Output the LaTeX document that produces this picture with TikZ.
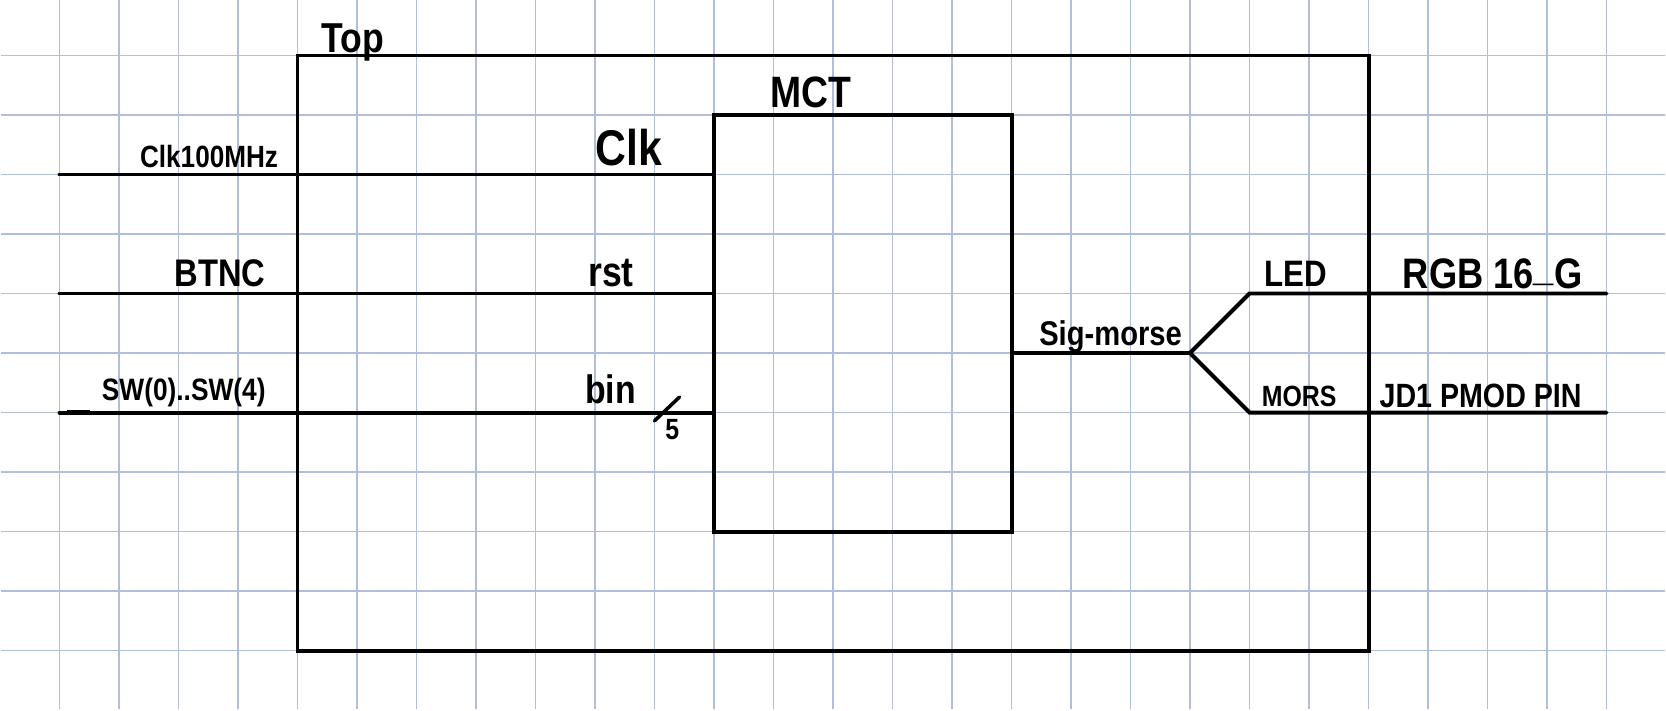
\documentclass[tikz,border=0pt]{standalone}
\usepackage{fontspec}
\setmainfont{Liberation Sans}
\newfontfamily\handfont[FakeStretch=0.85]{Liberation Sans}
\usetikzlibrary{positioning}
\definecolor{gridblue}{HTML}{AFBEDA}

\begin{document}
\begin{tikzpicture}[
    wire/.style={line width=1.9pt, line cap=round},
    block/.style={draw, line width=1.9pt, inner sep=0pt},
    lbl/.style={inner sep=0pt, font=\handfont\bfseries\fontsize{#1}{#1}\selectfont},
  ]
  \useasboundingbox (0,0) rectangle (28,11.933);
  % Squared paper
  \fill[white] (0,0) rectangle (28,11.933);
  \draw[gridblue, line width=0.9pt] (0.01,0.01) grid (27.99,11.933);

  % Blocks
  \node[block, minimum width=18cm, minimum height=10cm] (top) at (14,6) {};
  \node[block, minimum width=5cm, minimum height=7cm] (mct) at (14.5,6.5) {};

  % Inputs
  \coordinate (clkin) at (1,9);
  \coordinate (btnin) at (1,7);
  \coordinate (swin) at (1,5);
  \draw[wire] (clkin) -- (clkin -| mct.west);
  \draw[wire] (btnin) -- (btnin -| mct.west);
  \draw[wire] (swin) -- (swin -| mct.west);
  \draw[line width=2.6pt] (1.12,5) -- (1.52,5);

  % Bus width mark
  \draw[wire, line width=1.7pt] (11.0,4.86) -- (11.42,5.26);
  \node[lbl=14] (buswidth) at (11.3,4.72) {5};

  % Outputs
  \coordinate (split) at (20,6);
  \coordinate (ledp) at (21,7);
  \coordinate (morsp) at (21,5);
  \coordinate (ledout) at (27,7);
  \coordinate (morsout) at (27,5);
  \draw[wire] (split -| mct.east) -- (split) -- (ledp) -- (ledout);
  \draw[wire] (split) -- (morsp) -- (morsout);

  % Labels
  \node[lbl=20, anchor=base west] (toplbl) at (5.4,11.05) {Top};
  \node[lbl=21, anchor=base west] (mctlbl) at (12.94,10.12) {MCT};
  \node[lbl=14.7, anchor=base east] (clkpin) at (4.68,9.12) {Clk100MHz};
  \node[lbl=18.4, anchor=base east] (btnpin) at (4.47,7.12) {BTNC};
  \node[lbl=14.8, anchor=base east] (swpin) at (4.47,5.2) {SW(0)..SW(4)};
  \node[lbl=24, anchor=base west] (clkport) at (10.0,9.15) {Clk};
  \node[lbl=20, anchor=base west] (rstport) at (9.88,7.12) {rst};
  \node[lbl=19, anchor=base west] (binport) at (9.83,5.15) {bin};
  \node[lbl=16.4, anchor=base west] (sigport) at (17.46,6.12) {Sig-morse};
  \node[lbl=17.6, anchor=base west] (ledport) at (21.25,7.12) {LED};
  \node[lbl=14, anchor=base west] (morsport) at (21.2,5.1) {MORS};
  \node[lbl=20.4, anchor=base west] (ledpin) at (23.57,7.08) {RGB 16\raisebox{0.2em}{\_}G};
  \node[lbl=16.1, anchor=base west] (morspin) at (23.18,5.08) {JD1 PMOD PIN};
\end{tikzpicture}
\end{document}
